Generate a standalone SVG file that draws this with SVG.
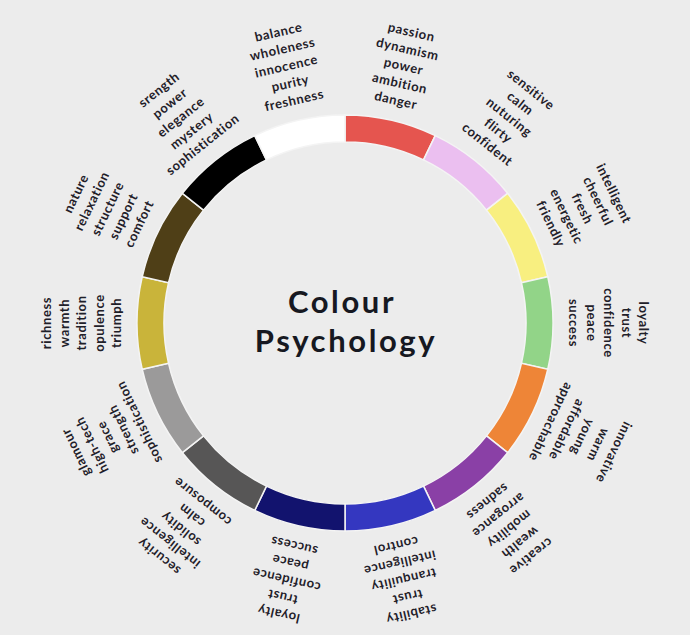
<svg xmlns="http://www.w3.org/2000/svg" width="690" height="635" viewBox="0 0 690 635">
<style>
.seg{stroke:#f4f4f4;stroke-width:1.5}
.lbl{font-family:Lato,"Open Sans","Liberation Sans",sans-serif;font-weight:700;font-size:13px;letter-spacing:0.6px;fill:#1f2029;text-anchor:middle}
.title{font-family:Lato,"Open Sans","Liberation Sans",sans-serif;font-weight:700;font-size:31px;letter-spacing:2.6px;fill:#161821;text-anchor:middle}
</style>
<rect width="690" height="635" fill="#ececec"/>
<g id="ring">
<path id="seg-red" class="seg" fill="#e5554f" d="M345,115 A208,208 0 0 1 435.25,135.60 L423.53,159.92 A181,181 0 0 0 345,142 Z"/>
<path id="seg-pink" class="seg" fill="#ebbff0" d="M435.25,135.60 A208,208 0 0 1 507.62,193.31 L486.51,210.15 A181,181 0 0 0 423.53,159.92 Z"/>
<path id="seg-yellow" class="seg" fill="#f8ef80" d="M507.62,193.31 A208,208 0 0 1 547.79,276.72 L521.46,282.72 A181,181 0 0 0 486.51,210.15 Z"/>
<path id="seg-green" class="seg" fill="#92d488" d="M547.79,276.72 A208,208 0 0 1 547.79,369.28 L521.46,363.28 A181,181 0 0 0 521.46,282.72 Z"/>
<path id="seg-orange" class="seg" fill="#ee8537" d="M547.79,369.28 A208,208 0 0 1 507.62,452.69 L486.51,435.85 A181,181 0 0 0 521.46,363.28 Z"/>
<path id="seg-purple" class="seg" fill="#8a40a6" d="M507.62,452.69 A208,208 0 0 1 435.25,510.40 L423.53,486.08 A181,181 0 0 0 486.51,435.85 Z"/>
<path id="seg-blue" class="seg" fill="#3437c0" d="M435.25,510.40 A208,208 0 0 1 345,531 L345,504 A181,181 0 0 0 423.53,486.08 Z"/>
<path id="seg-navy" class="seg" fill="#12136e" d="M345,531 A208,208 0 0 1 254.75,510.40 L266.47,486.08 A181,181 0 0 0 345,504 Z"/>
<path id="seg-darkgray" class="seg" fill="#575656" d="M254.75,510.40 A208,208 0 0 1 182.38,452.69 L203.49,435.85 A181,181 0 0 0 266.47,486.08 Z"/>
<path id="seg-gray" class="seg" fill="#9b9a9a" d="M182.38,452.69 A208,208 0 0 1 142.21,369.28 L168.54,363.28 A181,181 0 0 0 203.49,435.85 Z"/>
<path id="seg-gold" class="seg" fill="#c9b43a" d="M142.21,369.28 A208,208 0 0 1 142.21,276.72 L168.54,282.72 A181,181 0 0 0 168.54,363.28 Z"/>
<path id="seg-brown" class="seg" fill="#4f3f17" d="M142.21,276.72 A208,208 0 0 1 182.38,193.31 L203.49,210.15 A181,181 0 0 0 168.54,282.72 Z"/>
<path id="seg-black" class="seg" fill="#000000" d="M182.38,193.31 A208,208 0 0 1 254.75,135.60 L266.47,159.92 A181,181 0 0 0 203.49,210.15 Z"/>
<path id="seg-white" class="seg" fill="#ffffff" d="M254.75,135.60 A208,208 0 0 1 345,115 L345,142 A181,181 0 0 0 266.47,159.92 Z"/>
</g>
<g id="title">
<text class="title" x="342" y="313">Colour</text>
<text class="title" x="346" y="352">Psychology</text>
</g>
<g id="lbl-red" transform="rotate(12.857 345 323)">
<text class="lbl" x="345" y="29">passion</text><text class="lbl" x="345" y="46.5">dynamism</text><text class="lbl" x="345" y="64">power</text><text class="lbl" x="345" y="81.5">ambition</text><text class="lbl" x="345" y="99">danger</text>
</g>
<g id="lbl-pink" transform="rotate(38.571 345 323)">
<text class="lbl" x="345" y="29">sensitive</text><text class="lbl" x="345" y="46.5">calm</text><text class="lbl" x="345" y="64">nuturing</text><text class="lbl" x="345" y="81.5">flirty</text><text class="lbl" x="345" y="99">confident</text>
</g>
<g id="lbl-yellow" transform="rotate(64.286 345 323)">
<text class="lbl" x="345" y="29">intelligent</text><text class="lbl" x="345" y="46.5">cheerful</text><text class="lbl" x="345" y="64">fresh</text><text class="lbl" x="345" y="81.5">energetic</text><text class="lbl" x="345" y="99">friendly</text>
</g>
<g id="lbl-green" transform="rotate(90 345 323)">
<text class="lbl" x="345" y="29">loyalty</text><text class="lbl" x="345" y="46.5">trust</text><text class="lbl" x="345" y="64">confidence</text><text class="lbl" x="345" y="81.5">peace</text><text class="lbl" x="345" y="99">success</text>
</g>
<g id="lbl-orange" transform="rotate(115.714 345 323)">
<text class="lbl" x="345" y="29">innovative</text><text class="lbl" x="345" y="46.5">warm</text><text class="lbl" x="345" y="64">young</text><text class="lbl" x="345" y="81.5">affordable</text><text class="lbl" x="345" y="99">approachable</text>
</g>
<g id="lbl-purple" transform="rotate(141.429 345 323)">
<text class="lbl" x="345" y="29">creative</text><text class="lbl" x="345" y="46.5">wealth</text><text class="lbl" x="345" y="64">mobility</text><text class="lbl" x="345" y="81.5">arrogance</text><text class="lbl" x="345" y="99">sadness</text>
</g>
<g id="lbl-blue" transform="rotate(167.143 345 323)">
<text class="lbl" x="345" y="29">stability</text><text class="lbl" x="345" y="46.5">trust</text><text class="lbl" x="345" y="64">tranquility</text><text class="lbl" x="345" y="81.5">intelligence</text><text class="lbl" x="345" y="99">control</text>
</g>
<g id="lbl-navy" transform="rotate(192.857 345 323)">
<text class="lbl" x="345" y="29">loyalty</text><text class="lbl" x="345" y="46.5">trust</text><text class="lbl" x="345" y="64">confidence</text><text class="lbl" x="345" y="81.5">peace</text><text class="lbl" x="345" y="99">success</text>
</g>
<g id="lbl-darkgray" transform="rotate(218.571 345 323)">
<text class="lbl" x="345" y="29">security</text><text class="lbl" x="345" y="46.5">intelligence</text><text class="lbl" x="345" y="64">solidity</text><text class="lbl" x="345" y="81.5">calm</text><text class="lbl" x="345" y="99">composure</text>
</g>
<g id="lbl-gray" transform="rotate(244.286 345 323)">
<text class="lbl" x="345" y="29">glamour</text><text class="lbl" x="345" y="46.5">high-tech</text><text class="lbl" x="345" y="64">grace</text><text class="lbl" x="345" y="81.5">strength</text><text class="lbl" x="345" y="99">sophistication</text>
</g>
<g id="lbl-gold" transform="rotate(270 345 323)">
<text class="lbl" x="345" y="29">richness</text><text class="lbl" x="345" y="46.5">warmth</text><text class="lbl" x="345" y="64">tradition</text><text class="lbl" x="345" y="81.5">opulence</text><text class="lbl" x="345" y="99">triumph</text>
</g>
<g id="lbl-brown" transform="rotate(295.714 345 323)">
<text class="lbl" x="345" y="29">nature</text><text class="lbl" x="345" y="46.5">relaxation</text><text class="lbl" x="345" y="64">structure</text><text class="lbl" x="345" y="81.5">support</text><text class="lbl" x="345" y="99">comfort</text>
</g>
<g id="lbl-black" transform="rotate(321.429 345 323)">
<text class="lbl" x="345" y="29">srength</text><text class="lbl" x="345" y="46.5">power</text><text class="lbl" x="345" y="64">elegance</text><text class="lbl" x="345" y="81.5">mystery</text><text class="lbl" x="345" y="99">sophistication</text>
</g>
<g id="lbl-white" transform="rotate(347.143 345 323)">
<text class="lbl" x="345" y="29">balance</text><text class="lbl" x="345" y="46.5">wholeness</text><text class="lbl" x="345" y="64">innocence</text><text class="lbl" x="345" y="81.5">purity</text><text class="lbl" x="345" y="99">freshness</text>
</g>
</svg>
